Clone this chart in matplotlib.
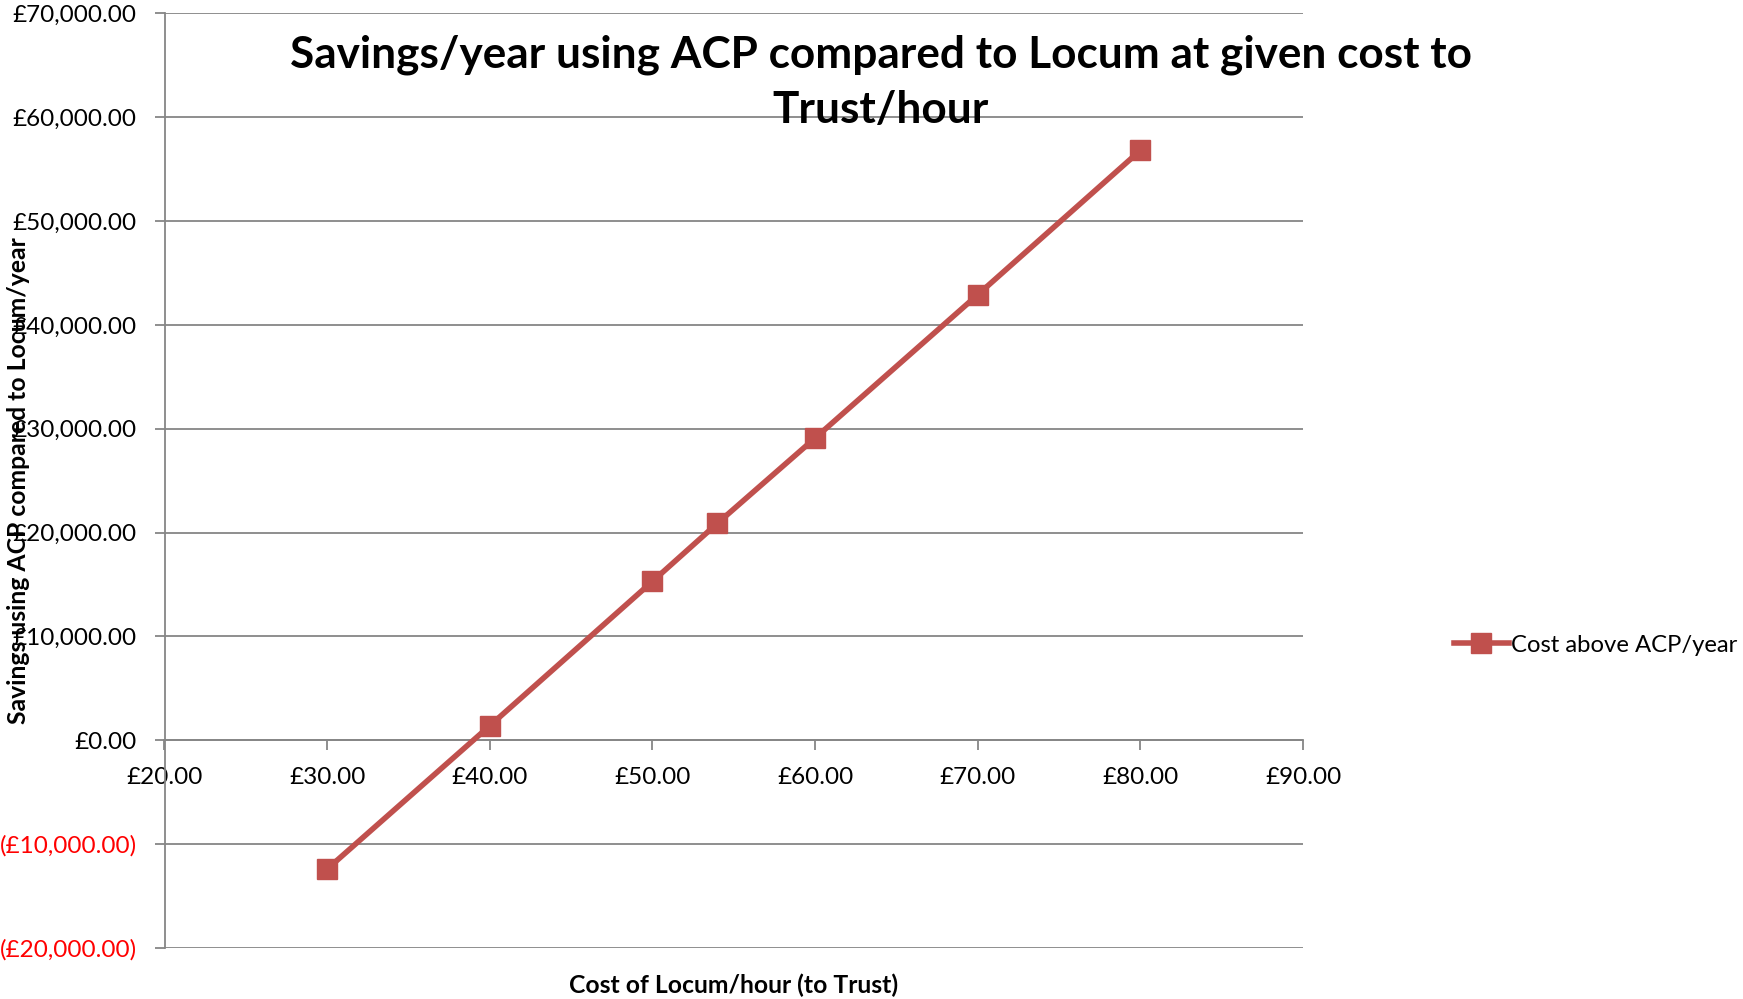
import matplotlib
matplotlib.use("Agg")
import matplotlib.pyplot as plt
from matplotlib.ticker import FuncFormatter, MultipleLocator

# Data
locum_cost = [30, 40, 50, 54, 60, 70, 80]
savings = [-12400, 1400, 15300, 20900, 29100, 42900, 56800]
series_name = "Cost above ACP/year"
title = "Savings/year using ACP compared to Locum at given cost to\nTrust/hour"
x_label = "Cost of Locum/hour (to Trust)"
y_label = "Savings using ACP compared to Locum/year"

plt.rcParams['font.family'] = ['Lato', 'DejaVu Sans']

W, H = 1743, 999
fig = plt.figure(figsize=(W / 100, H / 100), dpi=100)
ax = fig.add_axes([164.5 / W, 1 - 948 / H, (1303 - 164.5) / W, (948 - 13.3) / H])

red = '#C0504D'
grid_c = '#868686'

ax.plot(locum_cost, savings, color=red, lw=4, marker='s', markersize=14,
        markeredgecolor=red, label=series_name, zorder=3, clip_on=False)

ax.set_xlim(20, 90)
ax.set_ylim(-20000, 70000)
ax.xaxis.set_major_locator(MultipleLocator(10))
ax.yaxis.set_major_locator(MultipleLocator(10000))

ax.yaxis.grid(True, color=grid_c, lw=1.3)
ax.set_axisbelow(True)

for s in ['top', 'right']:
    ax.spines[s].set_visible(False)
ax.spines['bottom'].set_position(('data', 0))
ax.spines['bottom'].set_color(grid_c)
ax.spines['left'].set_color(grid_c)
ax.spines['bottom'].set_linewidth(1.3)
ax.spines['left'].set_linewidth(1.3)


def yfmt(v, pos):
    if v < 0:
        return "(£{:,.2f})".format(-v)
    return "£{:,.2f}".format(v)


def xfmt(v, pos):
    return "£{:,.2f}".format(v)


ax.yaxis.set_major_formatter(FuncFormatter(yfmt))
ax.xaxis.set_major_formatter(FuncFormatter(xfmt))
ax.tick_params(axis='y', direction='out', length=7, width=1.3, color=grid_c,
               labelsize=17.5, pad=13)
ax.tick_params(axis='x', direction='out', length=7, width=1.3, color=grid_c,
               labelsize=17.5, pad=12)

fig.canvas.draw()
for lab, val in zip(ax.get_yticklabels(), ax.get_yticks()):
    if val < 0:
        lab.set_color('#FF0000')

fig.text(881 / W, 1 - 82 / H, title, ha='center', va='center', fontsize=31.8,
         fontweight='bold', linespacing=1.45)
fig.text(19 / W, 1 - 481 / H, y_label, rotation=90, ha='center', va='center',
         fontsize=17.8, fontweight='bold')
fig.text(734 / W, 1 - 985 / H, x_label, ha='center', va='center',
         fontsize=17.8, fontweight='bold')

ax.legend(loc='center left', bbox_to_anchor=(1454 / W, 1 - 645 / H),
          bbox_transform=fig.transFigure, frameon=False, fontsize=17.2,
          handlelength=2.3, handletextpad=0.1, borderpad=0, borderaxespad=0)

fig.savefig('out.png', dpi=100)
